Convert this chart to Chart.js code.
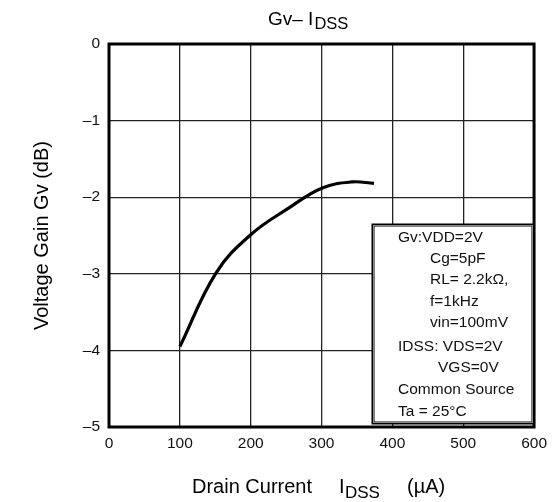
<!DOCTYPE html>
<html>
<head>
<meta charset="utf-8">
<script src="https://cdn.jsdelivr.net/npm/chart.js@4"></script>
<style>
  html, body { margin: 0; padding: 0; background: #fff; }
  #wrap { width: 554px; height: 502px; }
</style>
</head>
<body>
<div id="wrap"><canvas id="chart" width="554" height="502"></canvas></div>
<script>
// --- Data ---
const currentX = [100, 151, 200, 254, 301, 343, 374];
const gainY = [-3.95, -2.99, -2.49, -2.14, -1.88, -1.80, -1.82];
const xTicks = [0, 100, 200, 300, 400, 500, 600];
const yTicks = [0, -1, -2, -3, -4, -5];

const noteLines = [
  { text: 'Gv:VDD=2V', indent: 0 },
  { text: 'Cg=5pF', indent: 32 },
  { text: 'RL= 2.2k\u03A9,', indent: 32 },
  { text: 'f=1kHz', indent: 32 },
  { text: 'vin=100mV', indent: 32 },
  { text: 'IDSS: VDS=2V', indent: 0 },
  { text: 'VGS=0V', indent: 40 },
  { text: 'Common Source', indent: 0 },
  { text: 'Ta = 25\u00B0C', indent: 0 }
];
const noteY = [238, 259, 280, 302, 323, 347, 368, 390, 412];

const FONT = "'Liberation Sans', Arial, sans-serif";

// --- Extras: frame, note box, titles with subscripts ---
const extras = {
  id: 'extras',
  afterDraw(chart) {
    const ctx = chart.ctx;
    const a = chart.chartArea;
    ctx.save();

    // frame
    ctx.strokeStyle = '#000';
    ctx.lineWidth = 3;
    ctx.strokeRect(a.left, a.top, a.right - a.left, a.bottom - a.top);

    // note box
    const bx = 373, by = 225, bw = 160, bh = 198;
    ctx.fillStyle = '#fff';
    ctx.fillRect(bx, by, bw, bh);
    ctx.lineWidth = 3;
    ctx.strokeStyle = '#000';
    ctx.strokeRect(bx, by, bw, bh);
    ctx.lineWidth = 1;
    ctx.strokeStyle = '#888';
    ctx.strokeRect(bx + 0.5, by + 0.5, bw - 1, bh - 1);

    ctx.fillStyle = '#111';
    ctx.font = '15.5px ' + FONT;
    ctx.textAlign = 'left';
    ctx.textBaseline = 'middle';
    noteLines.forEach((l, i) => {
      ctx.fillText(l.text, 398 + l.indent, noteY[i]);
    });

    // chart title "Gv– I" + subscript "DSS"
    ctx.textBaseline = 'alphabetic';
    ctx.fillStyle = '#000';
    ctx.font = '19px ' + FONT;
    let x = 268;
    ctx.fillText('Gv\u2013 I', x, 25);
    x += ctx.measureText('Gv\u2013 I').width + 1;
    ctx.font = '16.5px ' + FONT;
    ctx.fillText('DSS', x, 29);

    // x axis title
    ctx.font = '20px ' + FONT;
    ctx.fillText('Drain Current', 192, 493);
    ctx.fillText('I', 339, 493);
    ctx.font = '17px ' + FONT;
    ctx.fillText('DSS', 345, 498);
    ctx.font = '20px ' + FONT;
    ctx.fillText('(\u00B5A)', 407, 493);

    // y axis title
    ctx.translate(42, (a.top + a.bottom) / 2);
    ctx.rotate(-Math.PI / 2);
    ctx.textAlign = 'center';
    ctx.textBaseline = 'middle';
    ctx.fillText('Voltage Gain Gv (dB)', 0, 0);

    ctx.restore();
  }
};

const minusLabel = (v) => (v < 0 ? '\u2013' + Math.abs(v) : String(v));

new Chart(document.getElementById('chart'), {
  type: 'line',
  data: {
    datasets: [{
      data: currentX.map((x, i) => ({ x: x, y: gainY[i] })),
      borderColor: '#000',
      borderWidth: 3.2,
      pointRadius: 0,
      fill: false,
      tension: 0.4
    }]
  },
  options: {
    responsive: false,
    animation: false,
    devicePixelRatio: 1,
    layout: { padding: { top: 44, right: 18, left: 0, bottom: 0 } },
    plugins: {
      legend: { display: false },
      title: { display: false },
      tooltip: { enabled: false }
    },
    scales: {
      x: {
        type: 'linear',
        min: 0,
        max: 600,
        afterBuildTicks: (s) => { s.ticks = xTicks.map(v => ({ value: v })); },
        afterFit: (s) => { s.height = 75; },
        grid: { color: '#222', lineWidth: 1.3, drawTicks: false },
        border: { display: false },
        ticks: { color: '#111', padding: 7, font: { family: FONT, size: 15.5 }, maxRotation: 0 }
      },
      y: {
        min: -5,
        max: 0,
        afterBuildTicks: (s) => { s.ticks = yTicks.map(v => ({ value: v })); },
        afterFit: (s) => { s.width = 109; },
        grid: { color: '#222', lineWidth: 1.3, drawTicks: false },
        border: { display: false },
        ticks: { color: '#111', padding: 9, font: { family: FONT, size: 15.5 }, callback: minusLabel }
      }
    }
  },
  plugins: [extras]
});
</script>
</body>
</html>
